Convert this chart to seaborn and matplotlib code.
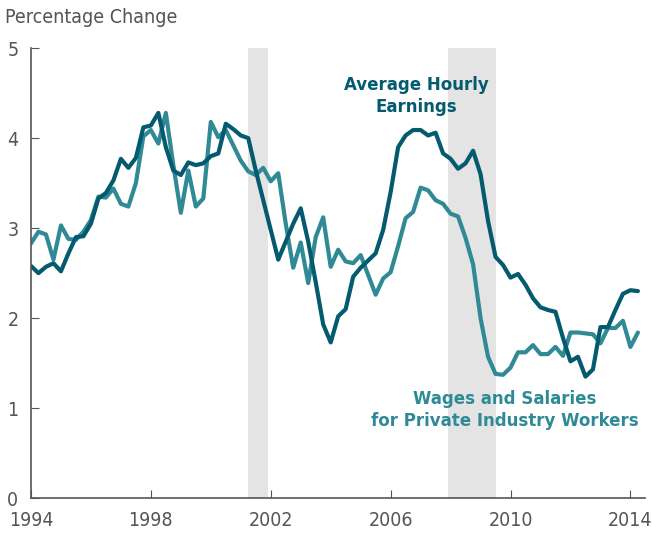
import numpy as np
import pandas as pd
import matplotlib
matplotlib.use("Agg")
import matplotlib.pyplot as plt
import seaborn as sns

# quarterly, 1994Q1 .. 2014Q2
start_year = 1994
earnings = [2.58, 2.50, 2.57, 2.61, 2.52, 2.72, 2.90, 2.91, 3.05, 3.33,
            3.39, 3.53, 3.77, 3.67, 3.78, 4.12, 4.14, 4.28, 3.90, 3.64,
            3.59, 3.73, 3.70, 3.72, 3.80, 3.83, 4.16, 4.10, 4.03, 4.00,
            3.64, 3.31, 2.98, 2.65, 2.85, 3.05, 3.22, 2.85, 2.40, 1.93,
            1.73, 2.02, 2.10, 2.46, 2.56, 2.64, 2.72, 2.98, 3.40, 3.90,
            4.03, 4.09, 4.09, 4.03, 4.06, 3.83, 3.77, 3.66, 3.72, 3.86,
            3.60, 3.08, 2.68, 2.59, 2.45, 2.49, 2.37, 2.22, 2.12, 2.09,
            2.07, 1.78, 1.52, 1.57, 1.35, 1.43, 1.90, 1.90, 2.09, 2.27,
            2.31, 2.30]
wages = [2.83, 2.96, 2.93, 2.65, 3.03, 2.88, 2.87, 2.96, 3.09, 3.35,
         3.34, 3.44, 3.27, 3.24, 3.50, 4.02, 4.09, 3.94, 4.28, 3.70,
         3.17, 3.64, 3.24, 3.33, 4.18, 4.01, 4.09, 3.92, 3.75, 3.63,
         3.59, 3.67, 3.52, 3.61, 3.05, 2.56, 2.84, 2.39, 2.90, 3.12,
         2.57, 2.76, 2.63, 2.61, 2.70, 2.48, 2.26, 2.44, 2.51, 2.80,
         3.11, 3.18, 3.45, 3.42, 3.31, 3.27, 3.16, 3.13, 2.89, 2.60,
         2.00, 1.57, 1.38, 1.37, 1.45, 1.62, 1.62, 1.70, 1.60, 1.60,
         1.68, 1.58, 1.84, 1.84, 1.83, 1.82, 1.72, 1.89, 1.89, 1.97,
         1.68, 1.84]
recessions = [(2001.25, 2001.92), (2007.92, 2009.5)]
x_ticks = [1994, 1998, 2002, 2006, 2010, 2014]
y_ticks = [0, 1, 2, 3, 4, 5]

dark = "#045a6e"
light = "#2f8a96"
grey = "#555555"

years = start_year + np.arange(len(earnings)) * 0.25
df = pd.DataFrame({
    "year": np.concatenate([years, years]),
    "value": earnings + wages,
    "series": ["earnings"] * len(earnings) + ["wages"] * len(wages),
})

sns.set_style("ticks")
plt.rcParams["font.family"] = ["DejaVu Sans"]
plt.rcParams["font.stretch"] = "condensed"

fig = plt.figure(figsize=(6.52, 5.35), dpi=100)
ax = fig.add_axes([0.0475, 0.069, 0.941, 0.841])

for a, b in recessions:
    ax.axvspan(a, b, color="#e4e4e4", lw=0, zorder=0)

sns.lineplot(data=df, x="year", y="value", hue="series",
             palette={"earnings": dark, "wages": light},
             hue_order=["wages", "earnings"],
             linewidth=3.0, legend=False, ax=ax)

ax.set_xlim(1994, 2014.47)
ax.set_ylim(0, 5)
ax.set_xticks(x_ticks)
ax.set_yticks(y_ticks)
ax.tick_params(axis="both", direction="in", length=6, color=grey,
               labelcolor=grey, labelsize=14)
ax.tick_params(axis="x", pad=9)
ax.tick_params(axis="y", pad=13)
for lab in ax.get_yticklabels():
    lab.set_horizontalalignment("center")
ax.set_xlabel("")
ax.set_ylabel("")
sns.despine(ax=ax)
for s in ["left", "bottom"]:
    ax.spines[s].set_color(grey)
    ax.spines[s].set_linewidth(1.2)

fig.text(0.008, 0.968, "Percentage Change", color=grey, fontsize=14,
         ha="left", va="center")

ax.text(2006.87, 4.47, "Average Hourly\nEarnings", color=dark,
        fontsize=13.3, fontweight="bold", ha="center", va="center",
        linespacing=1.25)
ax.text(2009.8, 0.98, "Wages and Salaries\nfor Private Industry Workers",
        color=light, fontsize=13.3, fontweight="bold", ha="center",
        va="center", linespacing=1.25)

fig.savefig("out.png", dpi=100)
